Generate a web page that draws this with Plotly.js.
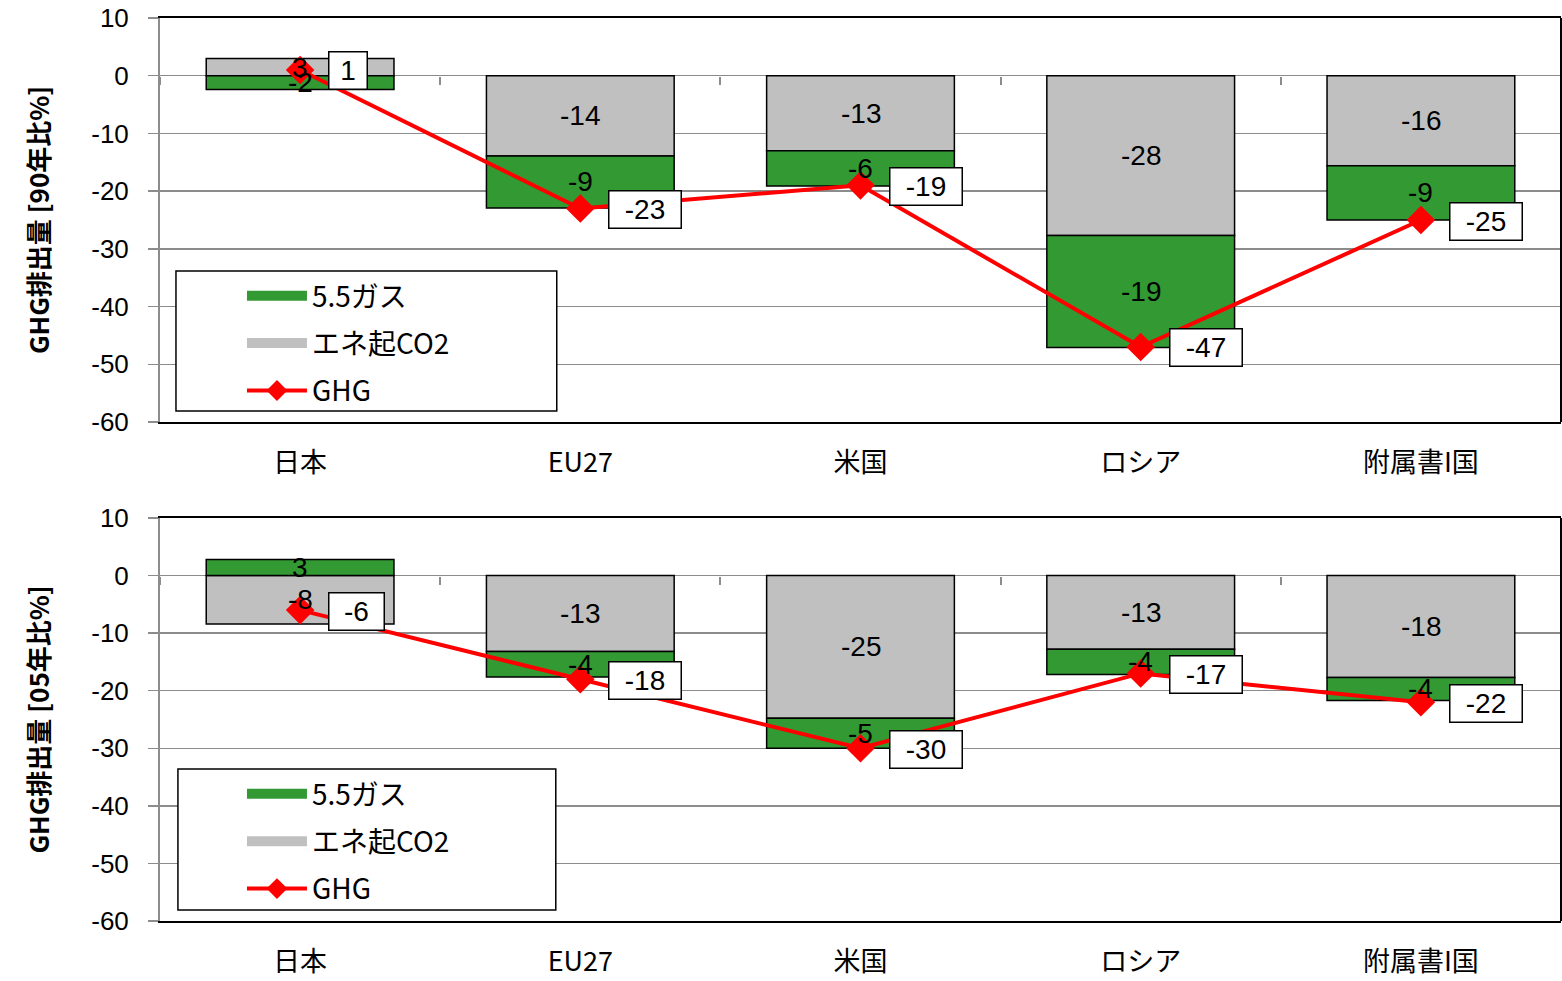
<!DOCTYPE html>
<html><head><meta charset="utf-8">
<script src="https://cdn.plot.ly/plotly-3.0.1.min.js"></script>
<style>body{margin:0;background:#fff}#chart{width:1562px;height:981px}</style>
</head><body><div id="chart"></div>
<script>
const categories = ['日本', 'EU27', '米国', 'ロシア', '附属書I国'];
// 1990 baseline (top)
const co2_90 = [3, -13.9, -13, -27.7, -15.6];
const gas_90 = [-2.4, -9, -6.1, -19.4, -9.4];
const ghg_90 = [1, -23, -19, -47, -25];
// 2005 baseline (bottom)
const co2_05 = [-8.4, -13.2, -24.8, -12.8, -17.7];
const gas_05 = [2.8, -4.4, -5.2, -4.4, -4];
const ghg_05 = [-6, -18, -30, -17, -22];
const yTickVals = [10, 0, -10, -20, -30, -40, -50, -60];
const yTickText = ['10', '0', '-10', '-20', '-30', '-40', '-50', '-60'];

const FONT = 'Liberation Sans, Arial, "Noto Sans CJK JP", sans-serif';
const CJK = '"Noto Sans CJK JP", "Liberation Sans", sans-serif';
const GREEN = '#339933', GREY = '#c0c0c0', RED = '#ff0000';

function barTrace(name, vals, color, xa, ya) {
  return {type: 'bar', name: name, x: categories, y: vals, xaxis: xa, yaxis: ya, showlegend: false,
    marker: {color: color, line: {color: '#000', width: 1.5}}, width: 0.67, hoverinfo: 'skip'};
}
function legendSwatch(name, color, legend, rank, group) {
  return {type: 'scatter', mode: 'lines', name: name, x: [null], y: [null], legend: legend, legendrank: rank,
    legendgroup: group,
    line: {color: color, width: 16}, xaxis: legend === 'legend' ? 'x' : 'x2', yaxis: legend === 'legend' ? 'y' : 'y2'};
}
function lineTrace(vals, xa, ya, legend) {
  return {type: 'scatter', mode: 'lines+markers', name: 'GHG', x: categories, y: vals,
    xaxis: xa, yaxis: ya, legend: legend, legendrank: 3, legendgroup: 'ghg' + legend,
    line: {color: RED, width: 4}, marker: {symbol: 'diamond', size: 22, color: RED}, cliponaxis: false};
}
// invisible carrier so the zero-line category axes get their categories (for boundary ticks)
function tickCarrier(vals, xa, ya) {
  return {type: 'scatter', mode: 'markers', x: categories, y: vals, xaxis: xa, yaxis: ya,
    marker: {opacity: 0}, showlegend: false, hoverinfo: 'skip'};
}
const data = [
  barTrace('エネ起CO2', co2_90, GREY, 'x', 'y'),
  barTrace('5.5ガス', gas_90, GREEN, 'x', 'y'),
  lineTrace(ghg_90, 'x', 'y', 'legend'),
  legendSwatch('5.5ガス', GREEN, 'legend', 1, 'gas1'),
  legendSwatch('エネ起CO2', GREY, 'legend', 2, 'co21'),
  barTrace('エネ起CO2', co2_05, GREY, 'x2', 'y2'),
  barTrace('5.5ガス', gas_05, GREEN, 'x2', 'y2'),
  lineTrace(ghg_05, 'x2', 'y2', 'legend2'),
  legendSwatch('5.5ガス', GREEN, 'legend2', 1, 'gas2'),
  legendSwatch('エネ起CO2', GREY, 'legend2', 2, 'co22'),
  tickCarrier(ghg_90, 'x3', 'y'),
  tickCarrier(ghg_05, 'x4', 'y2')
];

// segment labels for relative-stacked bars (placed via the axes at each segment's middle)
function barLabels(seriesList, xr, yr) {
  const out = [];
  categories.forEach((c, i) => {
    let pos = 0, neg = 0;
    seriesList.forEach(s => {
      const v = s[i];
      let mid;
      if (v >= 0) { mid = pos + v / 2; pos += v; } else { mid = neg + v / 2; neg += v; }
      out.push({x: c, y: mid, xref: xr, yref: yr, text: String(Math.round(v)), showarrow: false,
        xanchor: 'center', yanchor: 'middle', font: {size: 28, color: '#000', family: FONT}});
    });
  });
  return out;
}
function ghgAnn(vals, xr, yr) {
  return vals.map((v, i) => ({x: categories[i], y: v, xref: xr, yref: yr, text: String(v),
    showarrow: false, xanchor: 'left', yanchor: 'middle', xshift: 28, yshift: -1,
    width: 17 * String(v).length + 18, height: 34,
    bgcolor: '#fff', bordercolor: '#000', borderwidth: 1.5, borderpad: 1,
    font: {size: 28, color: '#000', family: FONT}}));
}

function xAx(anchor) {
  return {anchor: anchor, type: 'category', showline: true, mirror: true, linecolor: '#000', linewidth: 2,
    ticks: '', ticklabelstandoff: 16, tickfont: {size: 27, family: CJK, color: '#000'},
    showgrid: false, zeroline: false, range: [-0.5, 4.5], domain: [0, 1]};
}
function zeroAx(over, pos) {
  return {overlaying: over, anchor: 'free', position: pos, type: 'category', range: [-0.5, 4.5],
    tickson: 'boundaries', ticks: 'outside', ticklen: 8, tickwidth: 2, tickcolor: '#8c8c8c',
    showticklabels: false, showline: false, showgrid: false, zeroline: false};
}
function yAx(anchor, dom, title) {
  return {anchor: anchor, domain: dom, range: [-60, 10], tickvals: yTickVals, ticktext: yTickText,
    ticks: 'outside', ticklen: 10, tickcolor: '#8c8c8c', tickwidth: 1.5, ticklabelstandoff: 14,
    tickfont: {size: 26, family: FONT, color: '#000'},
    showgrid: true, gridcolor: '#8c8c8c', gridwidth: 1.5, zeroline: true, zerolinecolor: '#8c8c8c', zerolinewidth: 1.5,
    showline: true, linecolor: '#8c8c8c', linewidth: 2,
    title: {text: title, standoff: 34, font: {size: 26, family: CJK, color: '#000'}}};
}
const legBase = {bgcolor: 'rgba(0,0,0,0)', borderwidth: 0, xanchor: 'left', yanchor: 'top',
  font: {size: 28, family: CJK, color: '#000'}, itemwidth: 60, tracegroupgap: 8, traceorder: 'grouped'};

function legendBox(x0, x1, y0, y1) {
  return {type: 'rect', xref: 'paper', yref: 'paper', x0: x0, x1: x1, y0: y0, y1: y1, layer: 'above',
    fillcolor: '#fff', line: {color: '#000', width: 1.5}};
}

const layout = {
  width: 1562, height: 981, margin: {l: 160, r: 1, t: 18, b: 60},
  paper_bgcolor: '#fff', plot_bgcolor: '#fff', barmode: 'relative', bargap: 0.33,
  font: {family: FONT, color: '#000'},
  xaxis: xAx('y'), yaxis: yAx('x', [0.5526, 1], '<b>GHG排出量 [90年比%]</b>'),
  xaxis2: xAx('y2'), yaxis2: yAx('x2', [0, 0.4463], '<b>GHG排出量 [05年比%]</b>'),
  xaxis3: zeroAx('x', 0.93609), xaxis4: zeroAx('x2', 0.38254),
  legend: Object.assign({x: 0.0585, y: 0.7198}, legBase),
  legend2: Object.assign({x: 0.0585, y: 0.1683}, legBase),
  annotations: barLabels([co2_90, gas_90], 'x', 'y').concat(barLabels([co2_05, gas_05], 'x2', 'y2'),
    ghgAnn(ghg_90, 'x', 'y'), ghgAnn(ghg_05, 'x2', 'y2')),
  shapes: [
    {type: 'line', xref: 'x domain', yref: 'y domain', x0: 1, x1: 1, y0: 0, y1: 1, line: {color: '#000', width: 2}},
    {type: 'line', xref: 'x2 domain', yref: 'y2 domain', x0: 1, x1: 1, y0: 0, y1: 1, line: {color: '#000', width: 2}},
    legendBox(0.0114, 0.2832, 0.5648, 0.7198),
    legendBox(0.0128, 0.2825, 0.0122, 0.1683)
  ],
  showlegend: true
};
Plotly.newPlot('chart', data, layout, {staticPlot: true});
</script></body></html>
